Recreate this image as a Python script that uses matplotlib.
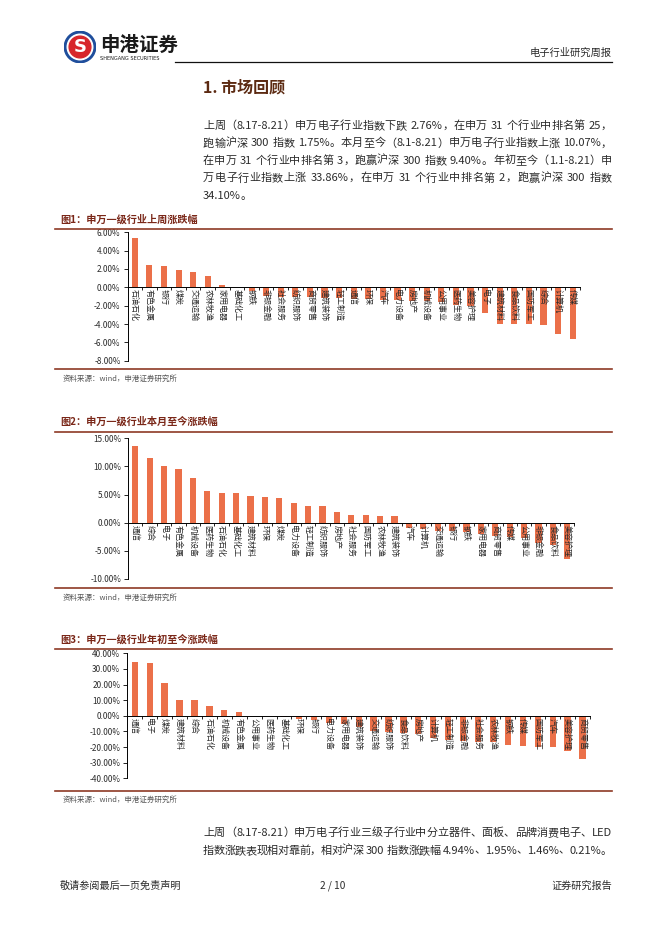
import matplotlib
matplotlib.use('Agg')
import matplotlib.pyplot as plt
from matplotlib.lines import Line2D
from matplotlib.patches import Circle
import numpy as np

plt.rcParams['font.family'] = ['Noto Sans CJK SC', 'DejaVu Sans']

# ---------------- data ----------------
cats1 = ['石油石化', '有色金属', '银行', '煤炭', '交通运输', '农林牧渔', '家用电器', '基础化工',
         '钢铁', '非银金融', '社会服务', '纺织服饰', '商贸零售', '建筑装饰', '轻工制造', '通信',
         '环保', '汽车', '电力设备', '房地产', '机械设备', '公用事业', '医药生物', '美容护理',
         '电子', '建筑材料', '食品饮料', '国防军工', '综合', '计算机', '传媒']
vals1 = [5.42, 2.42, 2.34, 1.87, 1.65, 1.28, 0.22, 0.03,
         -0.42, -0.95, -1.00, -1.05, -1.10, -1.15, -1.20, -1.25,
         -1.30, -1.35, -1.40, -1.45, -1.50, -1.60, -1.90, -2.00,
         -2.76, -3.95, -4.00, -4.05, -4.10, -5.10, -5.62]

cats2 = ['通信', '综合', '电子', '有色金属', '机械设备', '医药生物', '石油石化', '基础化工',
         '建筑材料', '环保', '煤炭', '电力设备', '轻工制造', '纺织服饰', '房地产', '社会服务',
         '国防军工', '农林牧渔', '建筑装饰', '汽车', '计算机', '交通运输', '银行', '钢铁',
         '家用电器', '商贸零售', '传媒', '公用事业', '非银金融', '食品饮料', '美容护理']
vals2 = [13.63, 11.50, 10.07, 9.54, 7.94, 5.69, 5.30, 5.28,
         4.74, 4.62, 4.45, 3.56, 3.02, 3.00, 1.92, 1.45,
         1.38, 1.26, 1.24, -1.00, -1.10, -1.50, -1.55, -1.70,
         -2.00, -2.30, -2.50, -2.80, -3.60, -3.90, -6.50]

cats3 = ['通信', '电子', '煤炭', '建筑材料', '综合', '石油石化', '机械设备', '有色金属',
         '公用事业', '医药生物', '基础化工', '环保', '银行', '电力设备', '家用电器', '建筑装饰',
         '交通运输', '纺织服饰', '食品饮料', '房地产', '计算机', '轻工制造', '非银金融', '社会服务',
         '农林牧渔', '钢铁', '传媒', '国防军工', '汽车', '美容护理', '商贸零售']
vals3 = [34.30, 33.86, 20.90, 10.40, 9.80, 6.40, 3.40, 2.30,
         0.10, -0.40, -0.80, -2.20, -3.00, -4.50, -5.50, -7.00,
         -9.50, -10.50, -11.00, -11.50, -14.50, -15.50, -16.00, -16.50,
         -17.00, -18.70, -19.60, -19.90, -20.20, -22.50, -27.70]

para1 = ['上周（8.17-8.21）申万电子行业指数下跌 2.76%，在申万 31 个行业中排名第 25，',
         '跑输沪深 300 指数 1.75%。本月至今（8.1-8.21）申万电子行业指数上涨 10.07%，',
         '在申万 31 个行业中排名第 3，跑赢沪深 300 指数 9.40%。年初至今（1.1-8.21）申',
         '万电子行业指数上涨 33.86%，在申万 31 个行业中排名第 2，跑赢沪深 300 指数',
         '34.10%。']
para2 = ['上周（8.17-8.21）申万电子行业三级子行业中分立器件、面板、品牌消费电子、LED',
         '指数涨跌表现相对靠前，相对沪深 300 指数涨跌幅 4.94%、1.95%、1.46%、0.21%。']

# ---------------- figure ----------------
W, H = 662, 936
fig = plt.figure(figsize=(W / 100, H / 100), dpi=100)
fig.patch.set_facecolor('white')
renderer = fig.canvas.get_renderer()


def fx(x):
    return x / W


def fy(y):
    return 1 - y / H


BAR = '#EB7049'
RULE = '#8E3A25'
TITLE = '#7A2718'
TXT = '#2b2b2b'


def hline(x0, x1, y, color, lw):
    fig.add_artist(Line2D([fx(x0), fx(x1)], [fy(y), fy(y)], color=color, lw=lw,
                          transform=fig.transFigure))


def justified(line, x0, x1, y, size, color=TXT, justify=True):
    tokens = []
    buf = ''
    for ch in line:
        if ch == ' ':
            if buf:
                tokens.append(buf)
                buf = ''
            tokens.append(' ')
        elif ord(ch) < 128:
            buf += ch
        else:
            if buf:
                tokens.append(buf)
                buf = ''
            tokens.append(ch)
    if buf:
        tokens.append(buf)
    widths = []
    for tk in tokens:
        if tk == ' ':
            widths.append(size * 100 / 72 * 0.3)
            continue
        t = fig.text(0, 0, tk, fontsize=size)
        bb = t.get_window_extent(renderer)
        widths.append(bb.width)
        t.remove()
    total = sum(widths)
    gaps = len(tokens) - 1
    extra = (x1 - x0 - total) / gaps if (justify and gaps > 0) else 0
    x = x0
    for tk, w in zip(tokens, widths):
        if tk != ' ':
            fig.text(fx(x), fy(y), tk, fontsize=size, color=color, ha='left', va='center')
        x += w + extra


# ---------------- header ----------------
logo = fig.add_axes([fx(64), fy(63), 32 / W, 32 / H])
logo.set_xlim(-1, 1)
logo.set_ylim(-1, 1)
logo.set_aspect('equal')
logo.axis('off')
logo.add_patch(Circle((0, 0), 0.98, color='#1F4E9C'))
logo.add_patch(Circle((0, 0), 0.80, color='white'))
logo.add_patch(Circle((0, 0), 0.68, color='#D7262B'))
logo.text(0, -0.02, 'S', color='white', fontsize=13, fontweight='bold', ha='center', va='center',
          family='DejaVu Sans')

fig.text(fx(100), fy(45), '申港证券', fontsize=14, fontweight='bold', color='#1a1a1a',
         ha='left', va='center')
fig.text(fx(100), fy(58.5), 'SHENGANG SECURITIES', fontsize=3.6, color='#1a1a1a',
         ha='left', va='center', family='DejaVu Sans')
fig.text(fx(612), fy(53), '电子行业研究周报', fontsize=7.4, color=TXT, ha='right', va='center')
hline(175, 612, 62, '#111111', 0.9)

fig.text(fx(203), fy(87), '1. 市场回顾', fontsize=11.5, fontweight='bold', color='#5C2A12',
         ha='left', va='center')

for i, ln in enumerate(para1):
    justified(ln, 203, 612, 126 + 17.4 * i, 8.0, justify=(i < len(para1) - 1))

for i, ln in enumerate(para2):
    justified(ln, 203, 612, 833 + 17.6 * i, 8.0)

# ---------------- charts ----------------


def draw_chart(cats, vals, box, ylim, ystep):
    l, r, t, b = box
    ax = fig.add_axes([fx(l), fy(b), (r - l) / W, (b - t) / H])
    x = np.arange(len(cats))
    ax.bar(x, vals, width=0.42, color=BAR, zorder=1)
    ax.set_xlim(-0.5, len(cats) - 0.5)
    ax.set_ylim(*ylim)
    ax.set_yticks(np.arange(ylim[0], ylim[1] + ystep / 2, ystep))
    ax.yaxis.set_major_formatter(lambda v, p: f'{v:.2f}%')
    ax.spines['bottom'].set_position(('data', 0))
    for s in ['top', 'right']:
        ax.spines[s].set_visible(False)
    ax.spines['left'].set_linewidth(0.7)
    ax.spines['bottom'].set_linewidth(0.7)
    ax.set_xticks(np.arange(-0.5, len(cats)))
    ax.set_xticklabels([])
    ax.set_xticks(x, minor=True)
    ax.set_xticklabels(cats, minor=True, rotation=270, fontsize=5.8, color=TXT)
    ax.tick_params(axis='x', which='major', length=2.5, width=0.6, direction='out')
    ax.tick_params(axis='x', which='minor', length=0, pad=1.5)
    ax.tick_params(axis='y', length=3, width=0.6, labelsize=5.9, pad=2, labelcolor=TXT)
    ax.set_facecolor('none')
    return ax


def chart_frame(title, ty, top_line, bot_line, src_y):
    fig.text(fx(60), fy(ty), title, fontsize=7.3, fontweight='bold', color=TITLE,
             ha='left', va='center')
    hline(55, 612, top_line, RULE, 1.2)
    hline(55, 612, bot_line, RULE, 1.2)
    fig.text(fx(63), fy(src_y), '资料来源：wind，申港证券研究所', fontsize=5.4, color='#555555',
             ha='left', va='center', style='italic')


chart_frame('图1：申万一级行业上周涨跌幅', 220, 228.5, 369.5, 378.5)
draw_chart(cats1, vals1, (127.5, 580, 232.3, 360.7), (-8, 6), 2)

chart_frame('图2：申万一级行业本月至今涨跌幅', 422, 431.5, 587.5, 597.5)
draw_chart(cats2, vals2, (128.1, 574.5, 438.3, 579), (-10, 15), 5)

chart_frame('图3：申万一级行业年初至今涨跌幅', 640, 648.5, 791, 799.5)
draw_chart(cats3, vals3, (127.3, 590, 653.3, 778.3), (-40, 40), 10)

# ---------------- footer ----------------
fig.text(fx(60), fy(886), '敬请参阅最后一页免责声明', fontsize=7.3, color=TXT, ha='left', va='center')
fig.text(fx(333), fy(886), '2 / 10', fontsize=7.3, color=TXT, ha='center', va='center')
fig.text(fx(612), fy(886), '证券研究报告', fontsize=7.3, color=TXT, ha='right', va='center')

fig.savefig('out.png', dpi=100, facecolor='white')
